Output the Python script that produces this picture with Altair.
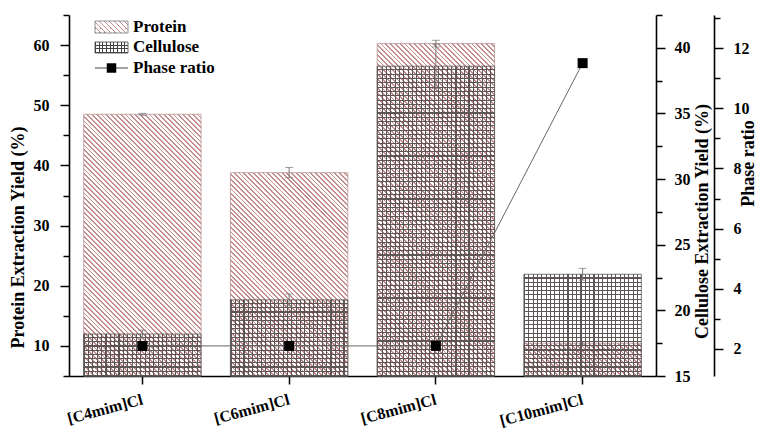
import math
import altair as alt
import pandas as pd

# ---------------- data ----------------
categories = ["[C4mim]Cl", "[C6mim]Cl", "[C8mim]Cl", "[C10mim]Cl"]
protein = [48.5, 38.8, 60.25, 10.45]
protein_err = [0.15, 0.85, 0.55, 0.25]
cellulose = [18.2, 20.8, 38.6, 22.75]
cellulose_err = [0.3, 0.45, 1.7, 0.45]
phase_ratio = [2.1, 2.1, 2.1, 11.5]
legend_labels = ["Protein", "Cellulose", "Phase ratio"]

# ---------------- layout ----------------
W, H = 587, 361
P_DOM = [5, 65]
C_DOM = [15, 42.5]
R_DOM = [1.1, 13.1]
PAD_IN, PAD_OUT = 0.2, 0.1
STEP = W / (len(categories) - PAD_IN + 2 * PAD_OUT)
BW = STEP * (1 - PAD_IN)

FONT = "Liberation Serif"
PROT_LINE = "#c48c8c"
GRID_LINE = "#5e5656"
CLEAR = "rgba(255,255,255,0)"

df = pd.DataFrame({
    "cat": categories,
    "protein": protein,
    "p_lo": [v - e for v, e in zip(protein, protein_err)],
    "p_hi": [v + e for v, e in zip(protein, protein_err)],
    "cellulose": cellulose,
    "c_lo": [v - e for v, e in zip(cellulose, cellulose_err)],
    "c_hi": [v + e for v, e in zip(cellulose, cellulose_err)],
    "phase": phase_ratio,
})


# ---------------- hatch helpers (gradient stripes) ----------------
def stripe_stops(n, line, bg, duty):
    s = []
    for i in range(n):
        a = i / n
        b = (i + duty) / n
        c = (i + 1) / n
        s += [
            alt.GradientStop(color=line, offset=a),
            alt.GradientStop(color=line, offset=b),
            alt.GradientStop(color=bg, offset=b),
            alt.GradientStop(color=bg, offset=c),
        ]
    return s


def diag_fill(w, h, period=3.4, lw=1.3, line=PROT_LINE, bg="white"):
    r = h / w
    k = (1 + r) / (1 + r * r)
    L = (w + h) / math.sqrt(2)
    n = max(1, round(L / period))
    return alt.LinearGradient(gradient="linear", x1=0, y1=1, x2=k, y2=1 - k * r,
                              stops=stripe_stops(n, line, bg, lw / (L / n)))


def hlines_fill(h, period=4.3, lw=1.1, line=GRID_LINE):
    n = max(1, round(h / period))
    return alt.LinearGradient(gradient="linear", x1=0, y1=1, x2=0, y2=0,
                              stops=stripe_stops(n, line, CLEAR, lw / (h / n)))


def vlines_fill(w, period=4.3, lw=1.1, line=GRID_LINE):
    n = max(1, round(w / period))
    return alt.LinearGradient(gradient="linear", x1=0, y1=0, x2=1, y2=0,
                              stops=stripe_stops(n, line, CLEAR, lw / (w / n)))


# ---------------- axes ----------------
common = dict(
    grid=False, domainColor="black", domainWidth=1.6, tickColor="black", tickWidth=1.5,
    labelFont=FONT, labelFontSize=16, labelFontWeight="bold", labelColor="black",
    titleFont=FONT, titleFontSize=18, titleFontWeight="bold", titleColor="black",
    titleAlign="center", titleBaseline="middle", titleAngle=270,
)

x_axis = alt.Axis(
    title=None, domainColor="black", domainWidth=1.6, tickColor="black", tickWidth=1.5,
    tickSize=8, labelFont=FONT, labelFontSize=16, labelFontWeight="bold", labelColor="black",
    labelAngle=345, labelAlign="right", labelBaseline="top", labelPadding=7,
    labelOverlap=False, labelOffset=-2,
)
x_enc = alt.X("cat:N", scale=alt.Scale(domain=categories, paddingInner=PAD_IN, paddingOuter=PAD_OUT),
              axis=x_axis)

p_axis = alt.Axis(
    title="Protein Extraction Yield (%)", orient="left", values=list(range(5, 66, 5)),
    labelExpr="datum.value % 10 === 0 ? datum.label : ''",
    tickSize={"condition": {"test": "datum.value % 10 === 0", "value": 9}, "value": 6},
    labelPadding=11, titleX=-51, titleY=222, **common,
)
c_axis = alt.Axis(
    title="Cellulose Extraction Yield (%)", orient="right",
    values=[15 + 2.5 * i for i in range(12)],
    labelExpr="datum.value % 5 === 0 ? datum.label : ''",
    tickSize={"condition": {"test": "datum.value % 5 === 0", "value": 9}, "value": 6},
    labelPadding=9, titleX=46, titleY=206, **common,
)
r_axis = alt.Axis(
    title="Phase ratio", orient="right", offset=58, values=list(range(2, 14)),
    labelExpr="datum.value % 2 === 0 ? datum.label : ''",
    tickSize={"condition": {"test": "datum.value % 2 === 0", "value": 9}, "value": 6},
    labelPadding=10, titleX=34, titleY=148, **common,
)

p_scale = alt.Scale(domain=P_DOM, zero=False, nice=False)
c_scale = alt.Scale(domain=C_DOM, zero=False, nice=False)
r_scale = alt.Scale(domain=R_DOM, zero=False, nice=False)

base = alt.Chart(df)

# ---------------- protein bars ----------------
p_layers = []
for cat, v in zip(categories, protein):
    h = (v - P_DOM[0]) / (P_DOM[1] - P_DOM[0]) * H
    p_layers.append(
        base.transform_filter(alt.datum.cat == cat)
        .mark_bar(fill=diag_fill(BW, h), stroke="#b89494", strokeWidth=0.8)
        .encode(x=x_enc, y=alt.Y("protein:Q", scale=p_scale, axis=p_axis), y2=alt.datum(P_DOM[0]))
    )
p_err = [
    base.mark_rule(color="#777777", strokeWidth=1).encode(
        x=x_enc, y=alt.Y("p_lo:Q", scale=p_scale, axis=p_axis), y2="p_hi:Q"),
    base.mark_tick(color="#777777", size=8, thickness=1).encode(
        x=x_enc, y=alt.Y("p_hi:Q", scale=p_scale, axis=p_axis)),
    base.mark_tick(color="#777777", size=8, thickness=1).encode(
        x=x_enc, y=alt.Y("p_lo:Q", scale=p_scale, axis=p_axis)),
]
protein_layer = alt.layer(*p_layers, *p_err)

# ---------------- cellulose bars ----------------
c_layers = []
for cat, v in zip(categories, cellulose):
    h = (v - C_DOM[0]) / (C_DOM[1] - C_DOM[0]) * H
    sub = base.transform_filter(alt.datum.cat == cat)
    enc = dict(x=x_enc, y=alt.Y("cellulose:Q", scale=c_scale, axis=c_axis), y2=alt.datum(C_DOM[0]))
    c_layers.append(sub.mark_bar(fill=hlines_fill(h)).encode(**enc))
    c_layers.append(sub.mark_bar(fill=vlines_fill(BW), stroke="#555555", strokeWidth=0.8).encode(**enc))
c_err = [
    base.mark_rule(color="#777777", strokeWidth=1).encode(
        x=x_enc, y=alt.Y("c_lo:Q", scale=c_scale, axis=c_axis), y2="c_hi:Q"),
    base.mark_tick(color="#777777", size=8, thickness=1).encode(
        x=x_enc, y=alt.Y("c_hi:Q", scale=c_scale, axis=c_axis)),
    base.mark_tick(color="#777777", size=8, thickness=1).encode(
        x=x_enc, y=alt.Y("c_lo:Q", scale=c_scale, axis=c_axis)),
]
cellulose_layer = alt.layer(*c_layers, *c_err)

# ---------------- phase ratio ----------------
phase_layer = alt.layer(
    base.mark_line(color="#666666", strokeWidth=1).encode(
        x=x_enc, y=alt.Y("phase:Q", scale=r_scale, axis=r_axis)),
    base.mark_square(size=100, color="black", opacity=1).encode(
        x=x_enc, y=alt.Y("phase:Q", scale=r_scale, axis=r_axis)),
)

# ---------------- legend (manual, hatched swatches) ----------------
one = alt.Chart(pd.DataFrame({"k": [0]}))
SW_X0, SW_X1 = 26, 59
legend_layer = alt.layer(
    one.mark_rect(fill=diag_fill(SW_X1 - SW_X0, 12), stroke="#777777", strokeWidth=0.8).encode(
        x=alt.value(SW_X0), x2=alt.value(SW_X1), y=alt.value(6), y2=alt.value(18)),
    one.mark_rect(fill="white").encode(
        x=alt.value(SW_X0), x2=alt.value(SW_X1), y=alt.value(27), y2=alt.value(38)),
    one.mark_rect(fill=hlines_fill(11, period=3.7, line="#444444")).encode(
        x=alt.value(SW_X0), x2=alt.value(SW_X1), y=alt.value(27), y2=alt.value(38)),
    one.mark_rect(fill=vlines_fill(SW_X1 - SW_X0, period=3.7, line="#444444"), stroke="#444444",
                  strokeWidth=0.8).encode(
        x=alt.value(SW_X0), x2=alt.value(SW_X1), y=alt.value(27), y2=alt.value(38)),
    one.mark_rule(color="#444444", strokeWidth=1).encode(
        x=alt.value(SW_X0), x2=alt.value(SW_X1), y=alt.value(53)),
    one.mark_square(size=90, color="black", opacity=1).encode(
        x=alt.value((SW_X0 + SW_X1) / 2), y=alt.value(53)),
    *[
        one.mark_text(align="left", baseline="middle", font=FONT, fontSize=17, fontWeight="bold",
                      color="black").encode(x=alt.value(64), y=alt.value(yy), text=alt.value(lbl))
        for lbl, yy in zip(legend_labels, [12, 32, 52.5])
    ],
)

chart = (
    alt.layer(protein_layer, cellulose_layer, phase_layer, legend_layer)
    .resolve_scale(y="independent")
    .properties(
        width=W, height=H,
        padding={"left": 61, "top": 7, "right": 100, "bottom": 54},
        autosize=alt.AutoSizeParams(type="none"),
        background="white",
    )
    .configure_view(stroke=None)
)

chart.save("out.html", embed_options={"renderer": "svg", "actions": False})
